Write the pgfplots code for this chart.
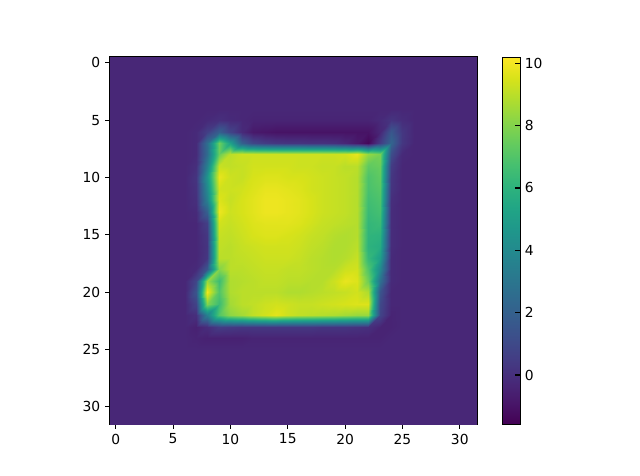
\documentclass[border=0pt]{standalone}
\usepackage{pgfplots}
\usepackage{pgfplotstable}
\pgfplotsset{compat=1.18}
\usepackage{fontspec}
\setmainfont{DejaVu Sans}
\pgfplotstableread[row sep=\\,col sep=comma]{
v\\
-0.3\\-0.3\\-0.3\\-0.3\\-0.3\\-0.3\\-0.3\\-0.3\\-0.3\\-0.3\\-0.3\\-0.3\\-0.3\\-0.3\\-0.3\\-0.3\\-0.3\\-0.3\\-0.3\\-0.3\\-0.3\\-0.3\\-0.3\\-0.3\\-0.3\\-0.3\\-0.3\\-0.3\\-0.3\\-0.3\\-0.3\\-0.3\\
-0.3\\-0.3\\-0.3\\-0.3\\-0.3\\-0.3\\-0.3\\-0.3\\-0.3\\-0.3\\-0.3\\-0.3\\-0.3\\-0.3\\-0.3\\-0.3\\-0.3\\-0.3\\-0.3\\-0.3\\-0.3\\-0.3\\-0.3\\-0.3\\-0.3\\-0.3\\-0.3\\-0.3\\-0.3\\-0.3\\-0.3\\-0.3\\
-0.3\\-0.3\\-0.3\\-0.3\\-0.3\\-0.3\\-0.3\\-0.3\\-0.3\\-0.3\\-0.3\\-0.3\\-0.3\\-0.3\\-0.3\\-0.3\\-0.3\\-0.3\\-0.3\\-0.3\\-0.3\\-0.3\\-0.3\\-0.3\\-0.3\\-0.3\\-0.3\\-0.3\\-0.3\\-0.3\\-0.3\\-0.3\\
-0.3\\-0.3\\-0.3\\-0.3\\-0.3\\-0.3\\-0.3\\-0.3\\-0.3\\-0.3\\-0.3\\-0.3\\-0.3\\-0.3\\-0.3\\-0.3\\-0.3\\-0.3\\-0.3\\-0.3\\-0.3\\-0.3\\-0.3\\-0.3\\-0.3\\-0.3\\-0.3\\-0.3\\-0.3\\-0.3\\-0.3\\-0.3\\
-0.3\\-0.3\\-0.3\\-0.3\\-0.3\\-0.3\\-0.3\\-0.3\\-0.3\\-0.3\\-0.3\\-0.3\\-0.3\\-0.3\\-0.3\\-0.3\\-0.3\\-0.3\\-0.3\\-0.3\\-0.3\\-0.3\\-0.3\\-0.3\\-0.3\\-0.3\\-0.3\\-0.3\\-0.3\\-0.3\\-0.3\\-0.3\\
-0.3\\-0.3\\-0.3\\-0.3\\-0.3\\-0.3\\-0.3\\-0.3\\-0.2\\0.0\\-0.2\\-0.3\\-0.4\\-0.4\\-0.4\\-0.4\\-0.4\\-0.4\\-0.4\\-0.4\\-0.4\\-0.4\\-0.4\\-0.2\\0.2\\-0.1\\-0.3\\-0.3\\-0.3\\-0.3\\-0.3\\-0.3\\
-0.3\\-0.3\\-0.3\\-0.3\\-0.3\\-0.3\\-0.3\\-0.2\\0.6\\2.0\\0.8\\-0.2\\-0.8\\-0.9\\-1.0\\-1.0\\-1.0\\-1.0\\-1.0\\-1.0\\-1.0\\-1.0\\-1.0\\-0.3\\1.6\\0.3\\-0.3\\-0.3\\-0.3\\-0.3\\-0.3\\-0.3\\
-0.3\\-0.3\\-0.3\\-0.3\\-0.3\\-0.3\\-0.3\\-0.2\\2.6\\7.6\\5.2\\2.0\\0.9\\0.5\\0.3\\0.2\\0.2\\0.1\\0.1\\0.0\\-0.3\\-0.8\\-1.4\\0.5\\2.2\\0.3\\-0.3\\-0.3\\-0.3\\-0.3\\-0.3\\-0.3\\
-0.3\\-0.3\\-0.3\\-0.3\\-0.3\\-0.3\\-0.3\\-0.2\\2.5\\7.5\\9.0\\9.3\\9.3\\9.3\\9.3\\9.3\\9.3\\9.3\\9.3\\9.3\\9.4\\9.8\\8.3\\7.8\\1.2\\-0.2\\-0.3\\-0.3\\-0.3\\-0.3\\-0.3\\-0.3\\
-0.3\\-0.3\\-0.3\\-0.3\\-0.3\\-0.3\\-0.3\\0.0\\3.5\\9.2\\9.1\\9.2\\9.4\\9.4\\9.4\\9.4\\9.3\\9.3\\9.2\\9.2\\9.0\\9.0\\7.3\\7.5\\0.5\\-0.3\\-0.3\\-0.3\\-0.3\\-0.3\\-0.3\\-0.3\\
-0.3\\-0.3\\-0.3\\-0.3\\-0.3\\-0.3\\-0.3\\0.2\\4.5\\9.8\\9.3\\9.2\\9.5\\9.6\\9.6\\9.5\\9.5\\9.4\\9.3\\9.2\\9.1\\8.9\\6.9\\7.3\\0.3\\-0.3\\-0.3\\-0.3\\-0.3\\-0.3\\-0.3\\-0.3\\
-0.3\\-0.3\\-0.3\\-0.3\\-0.3\\-0.3\\-0.3\\0.1\\4.0\\9.4\\9.3\\9.4\\9.6\\9.8\\9.8\\9.7\\9.6\\9.4\\9.3\\9.2\\9.1\\8.9\\6.8\\7.1\\0.2\\-0.3\\-0.3\\-0.3\\-0.3\\-0.3\\-0.3\\-0.3\\
-0.3\\-0.3\\-0.3\\-0.3\\-0.3\\-0.3\\-0.3\\0.0\\3.5\\9.6\\9.2\\9.5\\9.7\\9.9\\9.9\\9.8\\9.7\\9.5\\9.3\\9.2\\9.1\\8.9\\6.6\\6.9\\0.0\\-0.3\\-0.3\\-0.3\\-0.3\\-0.3\\-0.3\\-0.3\\
-0.3\\-0.3\\-0.3\\-0.3\\-0.3\\-0.3\\-0.3\\-0.2\\2.0\\9.9\\9.3\\9.5\\9.7\\9.9\\9.9\\9.8\\9.7\\9.5\\9.3\\9.2\\9.1\\8.9\\6.4\\6.7\\-0.1\\-0.3\\-0.3\\-0.3\\-0.3\\-0.3\\-0.3\\-0.3\\
-0.3\\-0.3\\-0.3\\-0.3\\-0.3\\-0.3\\-0.3\\-0.3\\0.6\\9.4\\9.2\\9.4\\9.6\\9.7\\9.7\\9.7\\9.6\\9.4\\9.2\\9.1\\9.0\\8.9\\6.2\\6.4\\-0.1\\-0.3\\-0.3\\-0.3\\-0.3\\-0.3\\-0.3\\-0.3\\
-0.3\\-0.3\\-0.3\\-0.3\\-0.3\\-0.3\\-0.3\\-0.3\\0.3\\9.2\\9.1\\9.3\\9.5\\9.6\\9.6\\9.5\\9.4\\9.2\\9.1\\8.9\\8.8\\8.9\\6.1\\6.0\\-0.1\\-0.3\\-0.3\\-0.3\\-0.3\\-0.3\\-0.3\\-0.3\\
-0.3\\-0.3\\-0.3\\-0.3\\-0.3\\-0.3\\-0.3\\-0.3\\0.2\\9.1\\9.0\\9.2\\9.3\\9.4\\9.4\\9.4\\9.3\\9.1\\9.0\\8.8\\8.8\\9.0\\6.0\\5.7\\-0.1\\-0.3\\-0.3\\-0.3\\-0.3\\-0.3\\-0.3\\-0.3\\
-0.3\\-0.3\\-0.3\\-0.3\\-0.3\\-0.3\\-0.3\\-0.3\\0.3\\9.0\\9.0\\9.1\\9.2\\9.3\\9.3\\9.3\\9.2\\9.0\\8.9\\8.8\\8.9\\9.2\\6.3\\5.0\\-0.2\\-0.3\\-0.3\\-0.3\\-0.3\\-0.3\\-0.3\\-0.3\\
-0.3\\-0.3\\-0.3\\-0.3\\-0.3\\-0.3\\-0.3\\-0.2\\1.6\\8.0\\9.0\\9.0\\9.1\\9.2\\9.2\\9.1\\9.1\\9.0\\8.9\\8.9\\9.3\\9.4\\7.0\\4.0\\-0.2\\-0.3\\-0.3\\-0.3\\-0.3\\-0.3\\-0.3\\-0.3\\
-0.3\\-0.3\\-0.3\\-0.3\\-0.3\\-0.3\\-0.3\\0.9\\8.4\\6.5\\8.8\\8.9\\9.0\\9.1\\9.1\\9.0\\9.0\\8.9\\8.9\\9.3\\9.8\\9.6\\7.6\\2.8\\-0.2\\-0.3\\-0.3\\-0.3\\-0.3\\-0.3\\-0.3\\-0.3\\
-0.3\\-0.3\\-0.3\\-0.3\\-0.3\\-0.3\\-0.3\\1.5\\10.0\\7.0\\8.8\\9.0\\9.0\\9.0\\9.0\\8.8\\8.8\\8.9\\9.0\\9.1\\9.2\\9.4\\8.8\\1.5\\-0.3\\-0.3\\-0.3\\-0.3\\-0.3\\-0.3\\-0.3\\-0.3\\
-0.3\\-0.3\\-0.3\\-0.3\\-0.3\\-0.3\\-0.3\\0.8\\8.0\\6.5\\8.6\\9.0\\9.1\\9.3\\9.4\\9.3\\9.2\\9.2\\9.3\\9.4\\9.5\\9.6\\9.6\\1.0\\-0.3\\-0.3\\-0.3\\-0.3\\-0.3\\-0.3\\-0.3\\-0.3\\
-0.3\\-0.3\\-0.3\\-0.3\\-0.3\\-0.3\\-0.3\\0.0\\3.5\\7.0\\8.2\\8.6\\9.1\\9.4\\9.7\\9.3\\9.1\\9.0\\8.9\\8.8\\8.6\\8.4\\8.4\\0.8\\-0.4\\-0.3\\-0.3\\-0.3\\-0.3\\-0.3\\-0.3\\-0.3\\
-0.3\\-0.3\\-0.3\\-0.3\\-0.3\\-0.3\\-0.3\\-0.5\\-0.1\\0.5\\0.4\\0.3\\0.3\\0.3\\0.3\\0.3\\0.3\\0.3\\0.2\\0.2\\0.2\\0.1\\0.0\\-0.4\\-0.4\\-0.3\\-0.3\\-0.3\\-0.3\\-0.3\\-0.3\\-0.3\\
-0.3\\-0.3\\-0.3\\-0.3\\-0.3\\-0.3\\-0.3\\-0.4\\-0.5\\-0.5\\-0.5\\-0.5\\-0.4\\-0.4\\-0.4\\-0.4\\-0.4\\-0.4\\-0.4\\-0.4\\-0.4\\-0.4\\-0.4\\-0.4\\-0.3\\-0.3\\-0.3\\-0.3\\-0.3\\-0.3\\-0.3\\-0.3\\
-0.3\\-0.3\\-0.3\\-0.3\\-0.3\\-0.3\\-0.3\\-0.3\\-0.3\\-0.3\\-0.3\\-0.3\\-0.3\\-0.3\\-0.3\\-0.3\\-0.3\\-0.3\\-0.3\\-0.3\\-0.3\\-0.3\\-0.3\\-0.3\\-0.3\\-0.3\\-0.3\\-0.3\\-0.3\\-0.3\\-0.3\\-0.3\\
-0.3\\-0.3\\-0.3\\-0.3\\-0.3\\-0.3\\-0.3\\-0.3\\-0.3\\-0.3\\-0.3\\-0.3\\-0.3\\-0.3\\-0.3\\-0.3\\-0.3\\-0.3\\-0.3\\-0.3\\-0.3\\-0.3\\-0.3\\-0.3\\-0.3\\-0.3\\-0.3\\-0.3\\-0.3\\-0.3\\-0.3\\-0.3\\
-0.3\\-0.3\\-0.3\\-0.3\\-0.3\\-0.3\\-0.3\\-0.3\\-0.3\\-0.3\\-0.3\\-0.3\\-0.3\\-0.3\\-0.3\\-0.3\\-0.3\\-0.3\\-0.3\\-0.3\\-0.3\\-0.3\\-0.3\\-0.3\\-0.3\\-0.3\\-0.3\\-0.3\\-0.3\\-0.3\\-0.3\\-0.3\\
-0.3\\-0.3\\-0.3\\-0.3\\-0.3\\-0.3\\-0.3\\-0.3\\-0.3\\-0.3\\-0.3\\-0.3\\-0.3\\-0.3\\-0.3\\-0.3\\-0.3\\-0.3\\-0.3\\-0.3\\-0.3\\-0.3\\-0.3\\-0.3\\-0.3\\-0.3\\-0.3\\-0.3\\-0.3\\-0.3\\-0.3\\-0.3\\
-0.3\\-0.3\\-0.3\\-0.3\\-0.3\\-0.3\\-0.3\\-0.3\\-0.3\\-0.3\\-0.3\\-0.3\\-0.3\\-0.3\\-0.3\\-0.3\\-0.3\\-0.3\\-0.3\\-0.3\\-0.3\\-0.3\\-0.3\\-0.3\\-0.3\\-0.3\\-0.3\\-0.3\\-0.3\\-0.3\\-0.3\\-0.3\\
-0.3\\-0.3\\-0.3\\-0.3\\-0.3\\-0.3\\-0.3\\-0.3\\-0.3\\-0.3\\-0.3\\-0.3\\-0.3\\-0.3\\-0.3\\-0.3\\-0.3\\-0.3\\-0.3\\-0.3\\-0.3\\-0.3\\-0.3\\-0.3\\-0.3\\-0.3\\-0.3\\-0.3\\-0.3\\-0.3\\-0.3\\-0.3\\
-0.3\\-0.3\\-0.3\\-0.3\\-0.3\\-0.3\\-0.3\\-0.3\\-0.3\\-0.3\\-0.3\\-0.3\\-0.3\\-0.3\\-0.3\\-0.3\\-0.3\\-0.3\\-0.3\\-0.3\\-0.3\\-0.3\\-0.3\\-0.3\\-0.3\\-0.3\\-0.3\\-0.3\\-0.3\\-0.3\\-0.3\\-0.3\\
}\heat

\begin{document}
\begin{tikzpicture}
\path[use as bounding box] (-1.10in,-0.52in) rectangle (5.30in,4.24in);
\begin{axis}[
    at={(0,0)},
    anchor=south west,
    scale only axis,
    width=3.67in,
    height=3.67in,
    y dir=reverse,
    xmin=-0.5, xmax=31.5,
    ymin=-0.5, ymax=31.5,
    xtick={0,5,...,30},
    ytick={0,5,...,30},
    tick align=outside,
    xtick pos=bottom,
    ytick pos=left,
    major tick length=3.5pt,
    every tick/.style={black,line width=0.8pt},
    axis line style={line width=0.8pt},
    tick label style={font=\fontsize{10}{12}\selectfont},
    /pgf/number format/assume math mode=true,
    colormap name=viridis,
    point meta min=-1.57,
    point meta max=10.2,
    colorbar,
    colorbar style={
        at={(1.0695,1)},
        anchor=north west,
        scale only axis,
        width=0.175in,
        height=3.67in,
        ytick={0,2,...,10},
        ytick pos=right,
        major tick length=3.5pt,
        every tick/.style={black,line width=0.8pt},
        axis line style={line width=0.6pt},
        tick label style={font=\fontsize{10}{12}\selectfont},
        /pgf/number format/assume math mode=true,
    },
]
\addplot[surf, shader=interp, mesh/cols=32, point meta=explicit]
    table[
        x index=0, y index=0,
        x expr={mod(\coordindex,32)==0 ? -0.5 : (mod(\coordindex,32)==31 ? 31.5 : mod(\coordindex,32))},
        y expr={floor((\coordindex+0.5)/32)==0 ? -0.5 : (floor((\coordindex+0.5)/32)==31 ? 31.5 : floor((\coordindex+0.5)/32))},
        meta=v,
    ] {\heat};
\end{axis}
\end{tikzpicture}
\end{document}
